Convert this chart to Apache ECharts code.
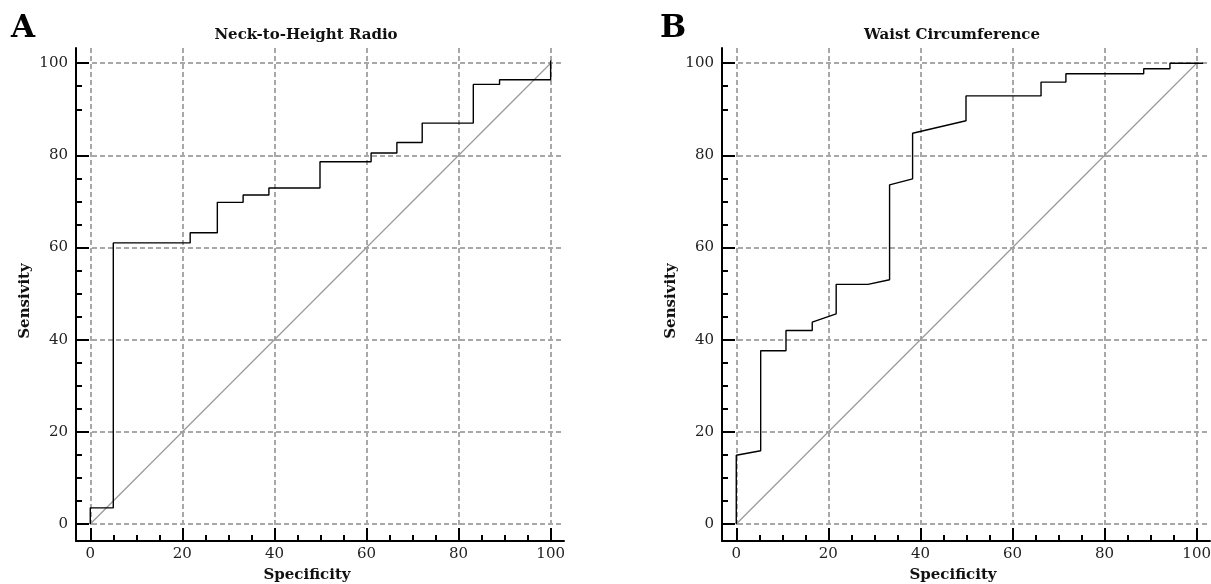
<!DOCTYPE html>
<html>
<head>
<meta charset="utf-8">
<script src="https://cdn.jsdelivr.net/npm/echarts@6/dist/echarts.min.js"></script>
<style>html,body{margin:0;padding:0;background:#fff;}#c{width:1211px;height:584px;}</style>
</head>
<body>
<div id="c"></div>
<script>
// ---- data ----
const majorTicks = [0, 20, 40, 60, 80, 100];
const minorTicksX = [5, 10, 15, 25, 30, 35, 45, 50, 55, 65, 70, 75, 85, 90, 95];
const minorTicksY = [5, 10, 15, 25, 30, 35, 45, 50, 55, 65, 70, 75, 90, 95];
const panelLetters = ['A', 'B'];
const panelTitles = ['Neck-to-Height Radio', 'Waist Circumference'];
const xName = 'Specificity';
const yName = 'Sensivity';
const diagSpec = [0, 100];
const diagSens = [0, 100];
// ROC curve A: Neck-to-Height Radio
const nhrSpec = [0, 0, 5, 5, 21.7, 21.7, 27.6, 27.6, 33.2, 33.2, 38.8, 38.8, 49.9, 49.9, 61, 61, 66.6, 66.6, 72.1, 72.1, 83.2, 83.2, 88.9, 88.9, 100, 100];
const nhrSens = [0, 3.5, 3.5, 61, 61, 63.2, 63.2, 69.8, 69.8, 71.4, 71.4, 72.9, 72.9, 78.6, 78.6, 80.5, 80.5, 82.8, 82.8, 87, 87, 95.4, 95.4, 96.4, 96.4, 100.6];
// ROC curve B: Waist Circumference
const wcSpec = [0, 0, 5.3, 5.3, 10.8, 10.8, 16.5, 16.5, 21.7, 21.7, 28.6, 33.3, 33.3, 38.3, 38.3, 49.9, 49.9, 66.2, 66.2, 71.6, 71.6, 88.5, 88.5, 94.2, 94.2, 101.4];
const wcSens = [0, 14.9, 15.9, 37.6, 37.6, 42.0, 42.0, 43.8, 45.6, 52.0, 52.0, 53.0, 73.6, 74.9, 84.8, 87.5, 92.9, 92.9, 95.9, 95.9, 97.7, 97.7, 98.8, 98.8, 100, 100];

const zip = (a, b) => a.map((v, i) => [v, b[i]]);
const serif = 'DejaVu Serif';
const X_MIN = -3.1, X_MAX = 102.9, Y_MIN = -3.7, Y_MAX = 103.3;

const grids = [
  { left: 76, right: 647, top: 48, bottom: 43, containLabel: false, outerBoundsMode: 'none' },
  { left: 722, right: 1, top: 48, bottom: 43, containLabel: false, outerBoundsMode: 'none' }
];

function mainAxis(dim, gi) {
  const isX = dim === 'x';
  return {
    type: 'value', gridIndex: gi,
    min: isX ? X_MIN : Y_MIN, max: isX ? X_MAX : Y_MAX,
    position: isX ? 'bottom' : 'left',
    name: isX ? xName : yName,
    nameLocation: 'middle',
    nameGap: isX ? 27 : 43,
    nameRotate: isX ? 0 : 90,
    nameTextStyle: { fontFamily: serif, fontWeight: 'bold', fontSize: 15, color: '#111',
      padding: isX ? [0, 26, 0, 0] : [0, 13, 0, 0] },
    axisLine: { onZero: false, lineStyle: { color: '#000', width: 2 } },
    axisTick: { inside: true, length: 13, customValues: majorTicks, lineStyle: { color: '#000', width: 2 } },
    axisLabel: { customValues: majorTicks, fontFamily: serif, fontSize: 15, color: '#222', margin: isX ? 6 : 8 },
    splitLine: { show: true, lineStyle: { color: '#a8a8a8', width: 2, type: [5, 3] } }
  };
}
function minorAxis(dim, gi) {
  const isX = dim === 'x';
  return {
    type: 'value', gridIndex: gi,
    min: isX ? X_MIN : Y_MIN, max: isX ? X_MAX : Y_MAX,
    position: isX ? 'bottom' : 'left',
    axisLine: { show: false, onZero: false },
    axisTick: { inside: true, length: 6, customValues: isX ? minorTicksX : minorTicksY, lineStyle: { color: '#000', width: 2 } },
    axisLabel: { show: false },
    splitLine: { show: false }
  };
}

const curves = [zip(nhrSpec, nhrSens), zip(wcSpec, wcSens)];
const series = [];
[0, 1].forEach(gi => {
  series.push({
    type: 'line', xAxisIndex: gi * 2, yAxisIndex: gi * 2,
    data: zip(diagSpec, diagSens), showSymbol: false, silent: true,
    lineStyle: { color: '#999', width: 1.2 }, z: 3
  });
  series.push({
    type: 'line', xAxisIndex: gi * 2, yAxisIndex: gi * 2,
    data: curves[gi], showSymbol: false, silent: true,
    lineStyle: { color: '#000', width: 1.4 }, z: 4
  });
});

const letterStyle = { fontFamily: serif, fontWeight: 'bold', fontSize: 31, color: '#000' };
const titleStyle = { fontFamily: serif, fontWeight: 'bold', fontSize: 15, color: '#111' };
const chart = echarts.init(document.getElementById('c'), null, { renderer: 'canvas' });
chart.setOption({
  animation: false,
  backgroundColor: '#fff',
  title: [
    { text: panelLetters[0], left: 6, top: 8, textStyle: letterStyle },
    { text: panelLetters[1], left: 655, top: 8, textStyle: letterStyle },
    { text: panelTitles[0], left: 301, textAlign: 'center', top: 23, textStyle: titleStyle },
    { text: panelTitles[1], left: 947, textAlign: 'center', top: 23, textStyle: titleStyle }
  ],
  grid: grids,
  xAxis: [mainAxis('x', 0), minorAxis('x', 0), mainAxis('x', 1), minorAxis('x', 1)],
  yAxis: [mainAxis('y', 0), minorAxis('y', 0), mainAxis('y', 1), minorAxis('y', 1)],
  series: series
});
</script>
</body>
</html>
